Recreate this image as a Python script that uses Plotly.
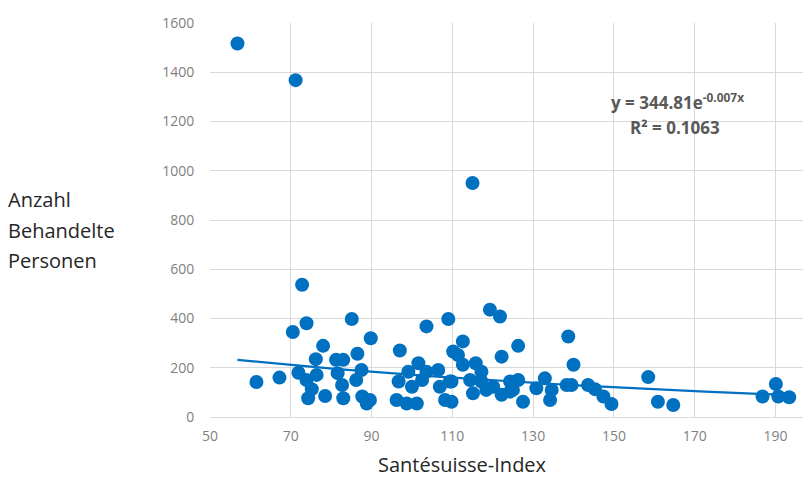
import numpy as np
import plotly.graph_objects as go

# Santésuisse-Index (x) and Anzahl Behandelte Personen (y)
x_index = [56.8, 71.2, 115.0, 72.8,
           61.5, 67.2, 70.5, 73.9, 78.0, 76.2, 71.9, 73.9, 76.4, 75.2, 74.3, 78.5, 81.2,
           85.1, 89.8, 97.0, 103.6, 109.0, 110.2, 83.0, 86.5, 87.5, 81.6, 86.2, 82.7, 83.0,
           87.7, 89.6, 88.8, 96.2, 98.7, 101.2, 96.7, 99.1, 101.6, 100.0, 102.5, 103.6,
           106.5, 106.9, 109.4, 108.2, 111.4,
           119.3, 121.8, 112.6, 126.3, 122.2, 138.7, 140.0, 112.6, 115.8, 117.2, 109.8,
           114.4, 117.2, 120.1, 124.3, 126.3, 115.1, 118.4, 122.2, 124.3, 127.5, 109.8,
           130.8, 132.9, 134.6, 134.2, 138.3, 125.0,
           139.5, 143.6, 145.3, 147.4, 149.4, 158.5, 160.9, 164.7, 186.8, 190.1, 190.7, 193.4]
y_personen = [1517, 1368, 950, 537,
              142, 160, 345, 381, 289, 235, 180, 150, 171, 113, 76, 85, 232,
              398, 320, 270, 368, 398, 266, 232, 257, 191, 178, 150, 130, 76,
              83, 69, 55, 69, 55, 55, 144, 184, 218, 123, 150, 184,
              191, 123, 144, 69, 252,
              436, 408, 307, 289, 245, 327, 212, 212, 218, 184, 144,
              150, 144, 123, 144, 150, 96, 110, 90, 103, 62, 62,
              117, 157, 110, 69, 130, 110,
              130, 130, 113, 83, 53, 162, 62, 49, 83, 134, 83, 80]

x_ticks = [50, 70, 90, 110, 130, 150, 170, 190]
y_ticks = [0, 200, 400, 600, 800, 1000, 1200, 1400, 1600]
y_title_lines = ["Anzahl", "Behandelte", "Personen"]

# Exponential trendline y = 344.81 e^(-0.007x) over data range
trend_a, trend_b = 344.81, -0.007
tx = np.linspace(min(x_index), max(x_index), 100)
ty = trend_a * np.exp(trend_b * tx)

blue = "#0070C0"
font_family = "'Open Sans', Lato, sans-serif"

# The page body has an 8px default margin; size the figure to fit the window.
W, H = 803, 470
L, R, T, B = 202, 0, 15, 61
PW, PH = W - L - R, H - T - B


def px2x(px):
    return (px - 8 - L) / PW


def py2y(py):
    return (H - B - (py - 8)) / PH


fig = go.Figure()
fig.add_trace(go.Scatter(x=tx, y=ty, mode="lines",
                         line=dict(color=blue, width=2.2), hoverinfo="skip"))
fig.add_trace(go.Scatter(x=x_index, y=y_personen, mode="markers",
                         marker=dict(color=blue, size=14, line=dict(width=0))))

annotations = []
for i, t in enumerate(y_title_lines):
    annotations.append(dict(xref="paper", yref="paper", x=px2x(6), y=py2y(199 + 31 * i),
                            xanchor="left", yanchor="middle", text=t, showarrow=False,
                            font=dict(size=20, color="#262626", family=font_family)))
annotations += [
    dict(xref="paper", yref="paper", x=px2x(462), y=py2y(464), xanchor="center",
         yanchor="middle", text="Santésuisse-Index", showarrow=False,
         font=dict(size=20, color="#262626", family=font_family)),
    dict(xref="paper", yref="paper", x=px2x(677), y=py2y(101), xanchor="center",
         yanchor="middle", text="<b>y = 344.81e<sup>-0.007x</sup></b>", showarrow=False,
         font=dict(size=17, color="#595959", family=font_family)),
    dict(xref="paper", yref="paper", x=px2x(675), y=py2y(127), xanchor="center",
         yanchor="middle", text="<b>R² = 0.1063</b>", showarrow=False,
         font=dict(size=17, color="#595959", family=font_family)),
]

fig.update_layout(
    width=W, height=H,
    margin=dict(l=L, r=R, t=T, b=B),
    paper_bgcolor="white", plot_bgcolor="white",
    showlegend=False,
    font=dict(family=font_family, color="#7f7f7f", size=14),
    xaxis=dict(range=[50, 198.8], tickvals=x_ticks, showgrid=True,
               gridcolor="#d9d9d9", gridwidth=1, zeroline=False,
               showline=True, linecolor="#d9d9d9",
               ticks="outside", ticklen=6, tickcolor="rgba(0,0,0,0)",
               tickfont=dict(size=14, color="#7f7f7f")),
    yaxis=dict(range=[0, 1600], tickvals=y_ticks, showgrid=True,
               gridcolor="#d9d9d9", gridwidth=1, zeroline=False,
               showline=False, ticks="outside", ticklen=12, tickcolor="rgba(0,0,0,0)",
               tickfont=dict(size=14, color="#7f7f7f")),
    annotations=annotations,
)

fig.write_html("out.html")
